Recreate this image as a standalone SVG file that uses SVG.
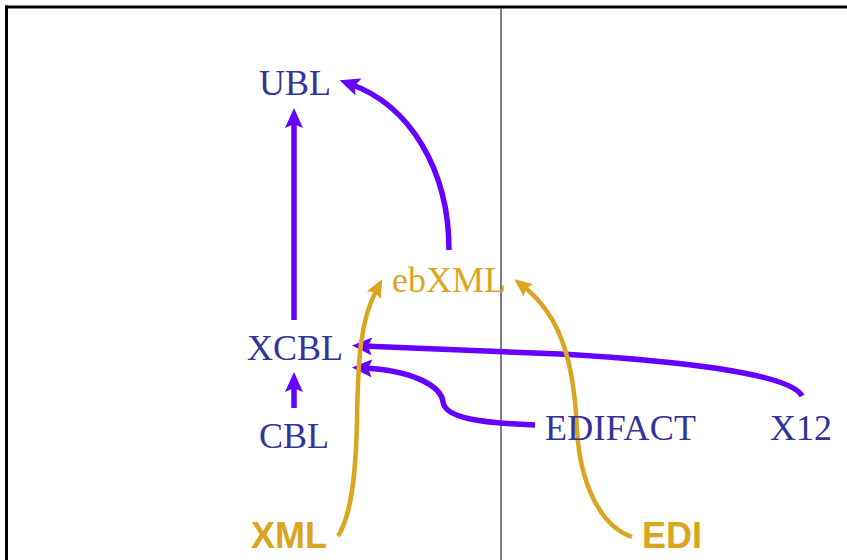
<svg xmlns="http://www.w3.org/2000/svg" width="847" height="560" viewBox="0 0 847 560">
<style>
.lbl{font-family:"Liberation Serif","Times New Roman",serif;font-size:36px;fill:#333399}
.gold{fill:#DAA520}
.sans{font-family:"Liberation Sans",Arial,sans-serif;font-weight:bold;font-size:36px;fill:#DAA520}
.p{fill:none;stroke:#6600FF;stroke-width:5.5}
.g{fill:none;stroke:#DAA520;stroke-width:4.5}
</style>
<defs>
<marker id="ap" markerUnits="userSpaceOnUse" markerWidth="20" markerHeight="18" viewBox="0 0 20 18" refX="9" refY="9" orient="auto"><path d="M0,0 L20,9 L0,18 L4,9 z" fill="#6600FF"/></marker>
<marker id="ag" markerUnits="userSpaceOnUse" markerWidth="18" markerHeight="16" viewBox="0 0 18 16" refX="7" refY="8" orient="auto"><path d="M0,0 L18,8 L0,16 L3,8 z" fill="#DAA520"/></marker>
</defs>
<rect width="847" height="560" fill="#fff"/>
<g id="frame">
<line x1="5" y1="7" x2="847" y2="7" stroke="#000" stroke-width="3"/>
<line x1="6.5" y1="5.5" x2="6.5" y2="560" stroke="#000" stroke-width="3"/>
<line x1="501" y1="8" x2="501" y2="560" stroke="#555" stroke-width="1.5"/>
</g>
<g id="connectors">
<path class="p" d="M294,408 L294,383" marker-end="url(#ap)"/>
<path class="p" d="M294,320 L294,119" marker-end="url(#ap)"/>
<path class="p" d="M449,250 C449,170 410,105 350,84" marker-end="url(#ap)"/>
<path class="p" d="M802,396 C792,376 700,362 560,354 L363,346" marker-end="url(#ap)"/>
<path class="p" d="M535,425 C480,423 445,418 443,402 C441,385 410,370 363,368" marker-end="url(#ap)"/>
<path class="g" d="M338,536 C352,515 356,470 357,420 C358,360 360,320 377,289" marker-end="url(#ag)"/>
<path class="g" d="M632,537 C598,525 580,480 577,430 C574,360 560,315 523,286" marker-end="url(#ag)"/>
</g>
<g id="UBL"><text class="lbl" x="259" y="95">UBL</text></g>
<g id="ebXML"><text class="lbl gold" x="392" y="292">ebXML</text></g>
<g id="XCBL"><text class="lbl" x="247" y="360">XCBL</text></g>
<g id="CBL"><text class="lbl" x="259" y="448">CBL</text></g>
<g id="EDIFACT"><text class="lbl" x="545" y="440" textLength="151">EDIFACT</text></g>
<g id="X12"><text class="lbl" x="770" y="440">X12</text></g>
<g id="XML"><text class="sans" x="251" y="548">XML</text></g>
<g id="EDI"><text class="sans" x="642" y="548">EDI</text></g>
</svg>
